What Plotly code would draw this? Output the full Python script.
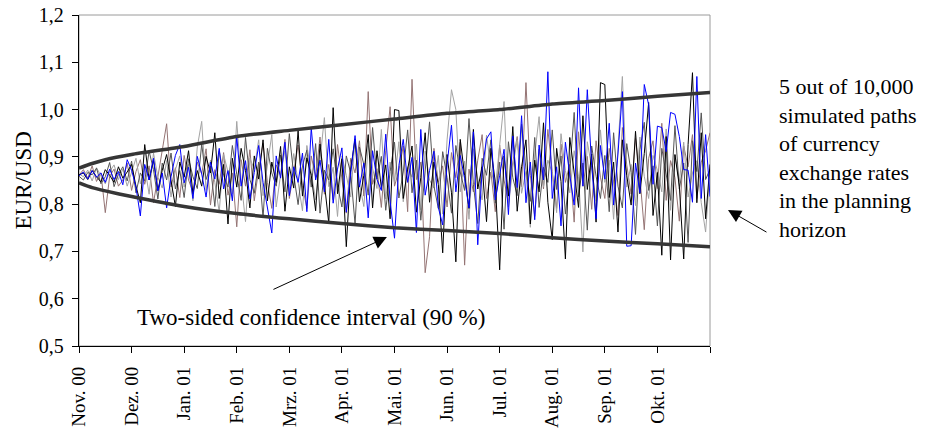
import plotly.graph_objects as go

# ---------------- data ----------------
month_labels = ["Nov. 00", "Dez. 00", "Jan. 01", "Feb. 01", "Mrz. 01", "Apr. 01",
                "Mai. 01", "Jun. 01", "Jul. 01", "Aug. 01", "Sep. 01", "Okt. 01", ""]
points_per_month = 12

path_black = [
    .862, .866, .852, .871, .858, .847, .873, .861, .846, .879, .855, .868,
    .884, .838, .803, .926, .851, .893, .829, .872, .905, .846, .795, .889,
    .857, .913, .822, .871, .838, .901, .866, .951, .812, .884, .758, .897,
    .836, .918, .871, .792, .902, .853, .936, .807, .889, .846, .922, .785,
    .879, .834, .955, .817, .898, .861, .786, .927, .843, .760, 1.004, .822,
    .896, .710, .874, .938, .805, .861, .947, .792, .913, .835, .883, .769,
    1.000, .998, .812, .874, .923, .783, .856, .951, .804, .889, .842, .697,
    .905, .824, .678, .937, .861, .791, .958, .832, .879, .763, .918, .847,
    .661, .902, .817, .964, .785, .879, .936, .758, .893, .826, .972, .804,
    .725, .918, .848, .684, .941, .872, .793, .987, .831, .906, .762, 1.057,
    1.053, .814, .889, .741, .936, .861, .798, .954, .822, .907, 1.015, .776,
    .867, .692, .943, .682, .905, .838, .684, .926, 1.078, .803, .951, .769,
    .884]

path_blue = [
    .860, .868, .853, .871, .857, .866, .846, .874, .852, .869, .841, .894,
    .872, .836, .775, .884, .851, .897, .828, .866, .792, .858, .903, .926,
    .845, .878, .812, .901, .864, .815, .889, .853, .918, .832, .871, .807,
    .943, .838, .892, .811, .867, .924, .846, .789, .739, .902, .855, .931,
    .818, .879, .846, .908, .784, .962, .851, .893, .826, .937, .802, .874,
    .919, .783, .868, .945, .836, .887, .771, .913, .852, .829, .948, .806,
    .728, .882, .937, .846, .899, .740, .958, .819, .871, .912, .793, .756,
    .884, .967, .826, .903, .854, .792, .953, .714, .872, .938, .953, .809,
    .861, .916, .778, .944, .835, .987, .803, .889, .767, .925, .851, 1.080,
    .812, .879, .754, .931, .862, .798, 1.046, .838, 1.042, .881, .769, .924,
    .853, .971, .798, .906, 1.038, .711, .712, .887, .824, 1.053, 1.010, .842,
    .965, .962, .911, .994, .990, .943, .873, .872, .804, 1.070, .812, .947,
    .816]

path_gray = [
    .864, .858, .872, .849, .877, .861, .843, .869, .883, .852, .874, .838,
    .866, .897, .843, .879, .821, .908, .857, .834, .892, .815, .873, .902,
    .836, .884, .807, .921, .975, .829, .893, .846, .783, .905, .868, .822,
    .975, .851, .763, .897, .874, .936, .818, .881, .947, .794, .862, .913,
    .829, .907, .851, .786, .924, .868, .809, .893, .983, .837, .878, .774,
    .902, .861, .815, .936, .844, .795, .924, .876, .833, .958, .811, .889,
    .846, .932, .805, .879, .857, .927, .788, .912, .851, .834, .903, .779,
    .936, 1.042, 1.000, .826, .891, .768, .917, .853, .809, .946, .875, .832,
    .921, 1.017, .794, .878, .936, .823, .869, .751, .904, .985, .837, .893,
    .866, .782, .949, .871, .824, .913, .858, .699, .932, .877, .806, .957,
    .846, .893, .768, .921, 1.070, .836, .884, .797, .942, .859, .812, .903,
    .871, .826, .959, .787, .904, .848, .931, .815, .866, .892, .803, .741,
    .872]

path_brown = [
    .861, .873, .855, .881, .848, .866, .782, .859, .874, .838, .851, .887,
    .829, .869, .894, .842, .881, .803, .858, .912, .970, .836, .877, .814,
    .903, .851, .826, .889, .864, .917, .798, .873, .842, .909, .819, .866,
    .752, .894, .838, .915, .807, .874, .929, .846, .791, .883, .861, .937,
    .812, .868, .925, .839, .791, .902, .857, .942, .821, .884, .809, .926,
    .853, .781, .897, .866, .934, .817, 1.038, .842, .875, .793, .914, 1.006,
    .838, .871, .923, .784, 1.064, .852, .889, .655, .731, .918, .846, .881,
    .794, .909, .856, .931, .671, .874, .826, .893, .947, .812, .868, .784,
    .925, .851, .802, .889, .943, .837, 1.057, .861, .774, .916, .832, .958,
    .869, .791, .927, .846, .884, .762, .953, .838, .901, .789, .934, .857,
    .812, .918, .847, .776, .962, .883, .821, .939, .858, .746, .897, .934,
    .833, .971, .808, .892, .856, .764, .923, .879, .947, .812, .889, .913,
    .951]

path_dark = [
    .859, .851, .867, .862, .876, .843, .858, .888, .837, .863, .879, .849,
    .891, .824, .866, .849, .912, .873, .811, .887, .851, .908, .832, .871,
    .814, .896, .858, .833, .927, .852, .881, .795, .913, .861, .836, .924,
    .863, .808, .941, .852, .823, .889, .771, .918, .866, .838, .904, .826,
    .949, .862, .799, .881, .914, .836, .928, .781, .872, .851, .917, .839,
    .794, .902, .866, .758, .921, .884, .819, .962, .853, .901, .787, .869,
    .931, .813, .868, .957, .824, .893, .766, .869, .974, .838, .791, .911,
    .856, .781, .924, .868, .829, .981, .842, .759, .897, .861, .936, .802,
    .889, .747, .932, .856, .818, .969, .874, .806, .941, .793, .878, .846,
    .957, .831, .902, .779, .868, .994, .815, .887, .745, .923, .859, .812,
    .903, .784, .951, .838, .792, .928, .867, .736, .915, .973, .829, .881,
    .754, .918, .861, .808, .966, .832, .887, .719, .934, .869, .993, .852,
    .874]

band_day = [0, 3, 6, 12, 24, 36, 48, 60, 72, 84, 96, 108, 120, 132, 144]
band_upper = [.876, .886, .894, .905, .922, .943, .956, .968, .980, .992, 1.000, 1.012, 1.019, 1.028, 1.036]
band_lower = [.845, .835, .828, .816, .795, .780, .769, .759, .750, .744, .738, .729, .722, .716, .710]

# ---------------- figure ----------------
FONT = "Liberation Serif"
n = len(path_black)
days = list(range(n))
fig = go.Figure()

series = [
    (path_brown, "#957474"),
    (path_gray, "#A3A3A3"),
    (path_dark, "#555555"),
    (path_black, "#000000"),
    (path_blue, "#0000FF"),
]
for vals, col in series:
    fig.add_trace(go.Scatter(x=days, y=vals, mode="lines",
                             line=dict(color=col, width=1), hoverinfo="skip"))

for band in (band_upper, band_lower):
    fig.add_trace(go.Scatter(x=band_day, y=band, mode="lines",
                             line=dict(color="#363636", width=3.5, shape="spline", smoothing=0.6),
                             hoverinfo="skip"))

tickvals = [i * points_per_month for i in range(len(month_labels))]

fig.update_layout(
    width=929, height=432,
    margin=dict(l=79, r=219, t=15, b=86),
    paper_bgcolor="white", plot_bgcolor="white",
    showlegend=False,
    separators=",.",
    font=dict(family=FONT, color="black", size=20),
    xaxis=dict(range=[0, n - 1], tickvals=tickvals, ticktext=month_labels,
               tickangle=-90, ticks="outside", ticklen=6, tickcolor="black",
               ticklabelstandoff=6, automargin=False,
               showline=True, linecolor="black", linewidth=1.3,
               showgrid=False, zeroline=False,
               tickfont=dict(family=FONT, size=19, color="black")),
    yaxis=dict(range=[0.5, 1.2], dtick=0.1, tick0=0.5, tickformat=".1f",
               ticks="outside", ticklen=6, tickcolor="black",
               ticklabelstandoff=4, automargin=False,
               showline=True, linecolor="black", linewidth=1.3,
               showgrid=False, zeroline=False,
               tickfont=dict(family=FONT, size=20, color="black")),
    shapes=[dict(type="rect", xref="paper", yref="paper", x0=0, x1=1, y0=0, y1=1,
                 line=dict(color="#9A9A9A", width=1), layer="below")],
)

fig.add_annotation(text="EUR/USD", xref="paper", yref="paper", x=-0.0887, y=0.5,
                   textangle=-90, showarrow=False, xanchor="center", yanchor="middle",
                   font=dict(family=FONT, size=23, color="black"))

fig.add_annotation(text="Two-sided confidence interval (90 %)", xref="paper", yref="paper",
                   x=0.3677, y=0.0846, showarrow=False, xanchor="center", yanchor="middle",
                   font=dict(family=FONT, size=23, color="black"))

fig.add_annotation(text="", xref="paper", yref="paper", x=0.488, y=0.329,
                   showarrow=True, arrowhead=2, arrowsize=2.6, arrowwidth=1, arrowcolor="black",
                   ax=-115, ay=53)

fig.add_annotation(text="5 out of 10,000<br>simulated paths<br>of currency<br>exchange rates<br>in the planning<br>horizon",
                   xref="paper", yref="paper", x=1.106, y=0.569, showarrow=False,
                   xanchor="left", yanchor="middle", align="left",
                   font=dict(family=FONT, size=22, color="black"))

fig.add_annotation(text="", xref="paper", yref="paper", x=1.0285, y=0.411,
                   showarrow=True, arrowhead=2, arrowsize=2.6, arrowwidth=1, arrowcolor="black",
                   ax=40, ay=23)

fig.write_html("out.html")
